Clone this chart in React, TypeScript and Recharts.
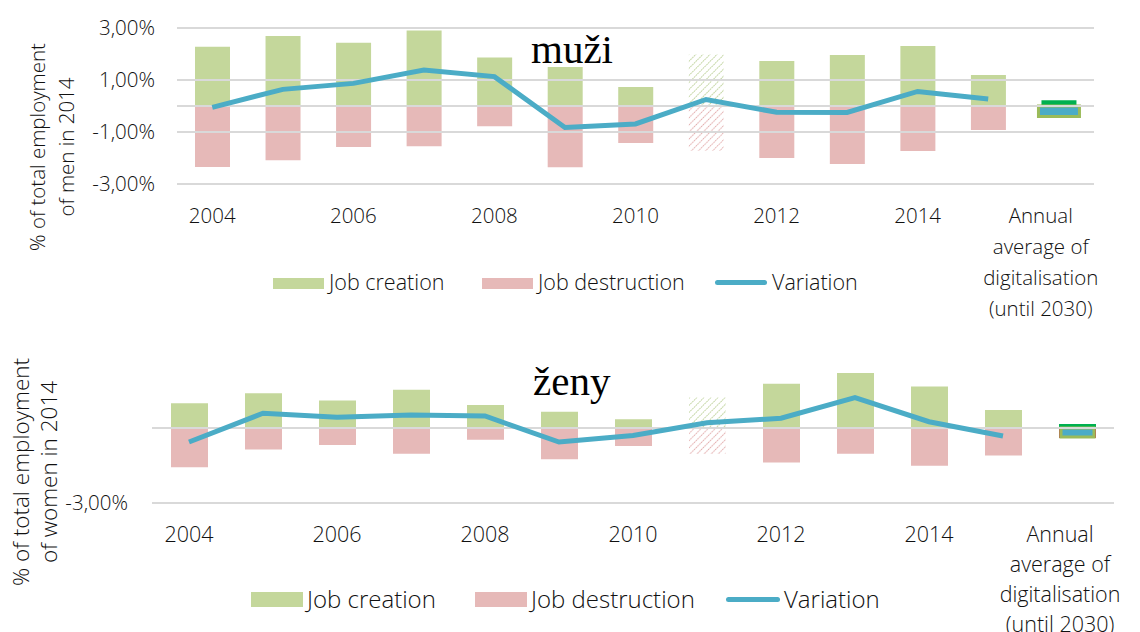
import React from "react";
import {
  Bar,
  Cell,
  ComposedChart,
  Legend,
  Line,
  ReferenceLine,
  XAxis,
  YAxis,
} from "recharts";

const years = [
  "2004", "2005", "2006", "2007", "2008", "2009",
  "2010", "2011", "2012", "2013", "2014", "2015",
];
const annualLabel = "Annual average of digitalisation (until 2030)";
const annualLabelLines = ["Annual", "average of", "digitalisation", "(until 2030)"];
const hatchedYear = "2011";

const menCreation = [2.28, 2.69, 2.43, 2.9, 1.87, 1.5, 0.73, 1.98, 1.73, 1.96, 2.31, 1.19];
const menDestruction = [-2.35, -2.09, -1.58, -1.55, -0.78, -2.36, -1.42, -1.73, -2.0, -2.23, -1.73, -0.92];
const menVariation = [-0.05, 0.64, 0.87, 1.38, 1.13, -0.83, -0.69, 0.25, -0.24, -0.25, 0.56, 0.27];
const menDigitalCreation = 0.22;
const menDigitalDestruction = -0.46;
const menDigitalVariation = -0.4;

const womenCreation = [0.99, 1.39, 1.1, 1.53, 0.92, 0.65, 0.35, 1.22, 1.77, 2.2, 1.66, 0.72];
const womenDestruction = [-1.57, -0.86, -0.68, -1.03, -0.47, -1.25, -0.72, -1.04, -1.38, -1.03, -1.51, -1.1];
const womenVariation = [-0.56, 0.59, 0.43, 0.52, 0.48, -0.56, -0.3, 0.21, 0.39, 1.22, 0.25, -0.32];
const womenDigitalCreation = 0.16;
const womenDigitalDestruction = -0.4;
const womenDigitalVariation = -0.36;

const menTicks = [-3, -1, 1, 3];
const womenTicks = [-3];
const legendLabels = ["Job creation", "Job destruction", "Variation"];

const GREEN = "#C4D79B";
const RED = "#E6B9B8";
const BLUE = "#4BACC6";
const GRID = "#D9D9D9";
const TEXT = "#111";
const FONT = "'Open Sans', sans-serif";
const WEIGHT = 300;

type Row = {
  name: string;
  creation?: number;
  destruction?: number;
  variation?: number;
  digiCreation?: number;
  digiDestruction?: number;
  digiVariation?: number;
};

function buildRows(
  creation: number[],
  destruction: number[],
  variation: number[],
  dCreation: number,
  dDestruction: number,
  dVariation: number
): Row[] {
  const rows: Row[] = years.map((name, i) => ({
    name,
    creation: creation[i],
    destruction: destruction[i],
    variation: variation[i],
  }));
  rows.push({
    name: annualLabel,
    digiCreation: dCreation,
    digiDestruction: dDestruction,
    digiVariation: dVariation,
  });
  return rows;
}

const menRows = buildRows(menCreation, menDestruction, menVariation, menDigitalCreation, menDigitalDestruction, menDigitalVariation);
const womenRows = buildRows(womenCreation, womenDestruction, womenVariation, womenDigitalCreation, womenDigitalDestruction, womenDigitalVariation);

const pct = (v: number) => v.toFixed(2).replace(".", ",") + "%";

type LegendLayout = {
  font: number;
  rectTop: number;
  rectW: number;
  rectH: number;
  greenLeft: number;
  redLeft: number;
  lineLeft: number;
  lineW: number;
  textY: number;
  gap: number;
};

function LegendBlock({ l }: { l: LegendLayout }) {
  const label = (left: number, text: string) => (
    <div
      style={{
        position: "absolute",
        left,
        top: l.textY - 20,
        height: 40,
        lineHeight: "40px",
        fontSize: l.font,
        fontFamily: FONT,
        fontWeight: WEIGHT,
        color: TEXT,
        whiteSpace: "nowrap",
      }}
    >
      {text}
    </div>
  );
  return (
    <div style={{ position: "relative", width: 1140, height: 1 }}>
      <div style={{ position: "absolute", left: l.greenLeft, top: l.rectTop, width: l.rectW, height: l.rectH, background: GREEN }} />
      {label(l.greenLeft + l.rectW + l.gap, legendLabels[0])}
      <div style={{ position: "absolute", left: l.redLeft, top: l.rectTop, width: l.rectW, height: l.rectH, background: RED }} />
      {label(l.redLeft + l.rectW + l.gap, legendLabels[1])}
      <div
        style={{
          position: "absolute",
          left: l.lineLeft,
          top: l.textY - 2.5,
          width: l.lineW,
          height: 5,
          borderRadius: 3,
          background: BLUE,
        }}
      />
      {label(l.lineLeft + l.lineW + l.gap, legendLabels[2])}
    </div>
  );
}

type PanelProps = {
  id: string;
  rows: Row[];
  top: number;
  height: number;
  margin: { top: number; right: number; bottom: number; left: number };
  ticks: number[];
  title: string;
  titleX: number;
  titleY: number;
  axisTitle: string[];
  axisTitleX: number[];
  axisTitleY: number;
  axisFont: number;
  tickFont: number;
  yTickFont: number;
  yTickMargin: number;
  tickBaseline: number;
  annualShift: number;
  lineGap: number;
  barSize: number;
  boxSize: number;
  legend: LegendLayout;
};

function Panel(p: PanelProps) {
  const renderTick = (t: any) => {
    const x = t.x as number;
    const value = t.payload?.value;
    if (value === annualLabel) {
      return (
        <text x={x + p.annualShift} y={p.tickBaseline} textAnchor="middle" fontSize={p.tickFont} fontFamily={FONT} fontWeight={WEIGHT} fill={TEXT}>
          {annualLabelLines.map((line, i) => (
            <tspan key={line} x={x + p.annualShift} dy={i === 0 ? 0 : p.lineGap}>
              {line}
            </tspan>
          ))}
        </text>
      );
    }
    return (
      <text x={x} y={p.tickBaseline} textAnchor="middle" fontSize={p.tickFont} fontFamily={FONT} fontWeight={WEIGHT} fill={TEXT}>
        {value}
      </text>
    );
  };

  return (
    <div style={{ position: "absolute", left: 0, top: p.top, width: 1140, height: p.height }}>
      <ComposedChart
        width={1140}
        height={p.height}
        data={p.rows}
        margin={p.margin}
        stackOffset="sign"
      >
        <defs>
          <pattern id={`${p.id}-g`} width="5" height="5" patternUnits="userSpaceOnUse" patternTransform="rotate(45)">
            <line x1="0" y1="0" x2="0" y2="5" stroke="#A6C277" strokeWidth="1.6" strokeDasharray="1.6 1" />
          </pattern>
          <pattern id={`${p.id}-r`} width="5" height="5" patternUnits="userSpaceOnUse" patternTransform="rotate(45)">
            <line x1="0" y1="0" x2="0" y2="5" stroke="#DC9998" strokeWidth="1.6" strokeDasharray="1.6 1" />
          </pattern>
        </defs>
        <XAxis
          dataKey="name"
          interval={1}
          axisLine={false}
          tickLine={false}
          height={30}
          tick={renderTick}
        />
        <XAxis xAxisId="box" dataKey="name" hide />
        <YAxis
          domain={[-3, 3]}
          ticks={p.ticks}
          width={80}
          axisLine={false}
          tickLine={false}
          tickMargin={p.yTickMargin}
          tickFormatter={pct}
          tick={{ fontSize: p.yTickFont, fontFamily: FONT, fontWeight: WEIGHT, fill: TEXT }}
          allowDataOverflow
        />
        {p.ticks.map((t) => (
          <ReferenceLine key={t} y={t} stroke={GRID} strokeWidth={2} />
        ))}
        <ReferenceLine y={0} stroke={GRID} strokeWidth={2} />
        <Bar dataKey="creation" stackId="s" fill={GREEN} barSize={p.barSize} isAnimationActive={false} legendType="rect">
          {p.rows.map((r) => (
            <Cell key={r.name} fill={r.name === hatchedYear ? `url(#${p.id}-g)` : GREEN} />
          ))}
        </Bar>
        <Bar dataKey="destruction" stackId="s" fill={RED} barSize={p.barSize} isAnimationActive={false}>
          {p.rows.map((r) => (
            <Cell key={r.name} fill={r.name === hatchedYear ? `url(#${p.id}-r)` : RED} />
          ))}
        </Bar>
        <Bar dataKey="digiCreation" stackId="s" fill="#00B050" barSize={p.barSize} isAnimationActive={false} />
        <Bar dataKey="digiDestruction" stackId="s" fill="#C0504D" barSize={p.barSize} isAnimationActive={false} />
        <Bar
          dataKey="digiVariation"
          xAxisId="box"
          fill={BLUE}
          stroke="#9BBB59"
          strokeWidth={3}
          barSize={p.boxSize}
          isAnimationActive={false}
        />
        <Line
          dataKey="variation"
          stroke={BLUE}
          strokeWidth={5}
          dot={false}
          activeDot={false}
          isAnimationActive={false}
        />
        <Legend
          verticalAlign="middle"
          align="center"
          wrapperStyle={{ left: 0, top: 0, width: 1140, height: 1 }}
          content={() => <LegendBlock l={p.legend} />}
        />
        <text x={p.titleX} y={p.titleY} fontSize={41} fontFamily="'Liberation Serif', 'Times New Roman', serif" fill="#000">
          {p.title}
        </text>
        {p.axisTitle.map((line, i) => (
          <text
            key={line}
            x={p.axisTitleX[i]}
            y={p.axisTitleY}
            transform={`rotate(-90, ${p.axisTitleX[i]}, ${p.axisTitleY})`}
            textAnchor="middle"
            fontSize={p.axisFont}
            fontFamily={FONT}
            fontWeight={WEIGHT}
            fill={TEXT}
          >
            {line}
          </text>
        ))}
      </ComposedChart>
    </div>
  );
}

export default function App() {
  return (
    <div style={{ position: "absolute", left: 0, top: 0, width: 1140, height: 632, background: "#fff", overflow: "hidden" }}>
      <Panel
        id="men"
        rows={menRows}
        top={0}
        height={330}
        margin={{ top: 28, right: 46, bottom: 116, left: 97 }}
        ticks={menTicks}
        title="muži"
        titleX={531}
        titleY={63}
        axisTitle={["% of total employment", "of men in 2014"]}
        axisTitleX={[45, 74]}
        axisTitleY={147}
        axisFont={20.5}
        tickFont={20.5}
        yTickFont={20.5}
        yTickMargin={16}
        tickBaseline={223}
        annualShift={-18}
        lineGap={31}
        barSize={35}
        boxSize={41}
        legend={{
          font: 21.5,
          rectTop: 278,
          rectW: 51,
          rectH: 11,
          greenLeft: 273,
          redLeft: 482,
          lineLeft: 715,
          lineW: 52,
          textY: 282,
          gap: 5,
        }}
      />
      <Panel
        id="women"
        rows={womenRows}
        top={330}
        height={302}
        margin={{ top: 23, right: 26, bottom: 99, left: 72 }}
        ticks={womenTicks}
        title="ženy"
        titleX={533}
        titleY={65}
        axisTitle={["% of total employment", "of women in 2014"]}
        axisTitleX={[29, 57]}
        axisTitleY={142}
        axisFont={22.5}
        tickFont={21.5}
        yTickFont={20.5}
        yTickMargin={18}
        tickBaseline={212}
        annualShift={-17}
        lineGap={30}
        barSize={37}
        boxSize={33}
        legend={{
          font: 24,
          rectTop: 262,
          rectW: 52,
          rectH: 15,
          greenLeft: 251,
          redLeft: 475,
          lineLeft: 726,
          lineW: 54,
          textY: 269,
          gap: 4,
        }}
      />
    </div>
  );
}
